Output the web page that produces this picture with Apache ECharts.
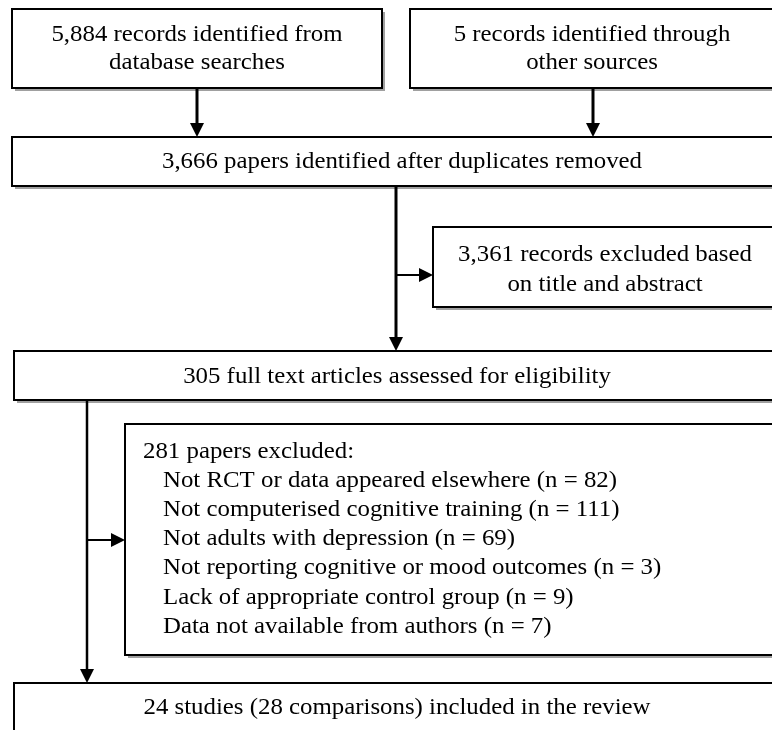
<!DOCTYPE html>
<html>
<head>
<meta charset="utf-8">
<script src="https://cdn.jsdelivr.net/npm/echarts/dist/echarts.min.js"></script>
<style>
html,body{margin:0;padding:0;background:#fff;}
#chart{width:772px;height:730px;}
</style>
</head>
<body>
<div id="chart"></div>
<script>
// ---- content (data) ----
const identifiedDatabase = 5884;
const identifiedOther = 5;
const afterDuplicates = 3666;
const excludedTitleAbstract = 3361;
const fullTextAssessed = 305;
const fullTextExcluded = 281;
const exclusionReasons = [
  "Not RCT or data appeared elsewhere",
  "Not computerised cognitive training",
  "Not adults with depression",
  "Not reporting cognitive or mood outcomes",
  "Lack of appropriate control group",
  "Data not available from authors"
];
const exclusionCounts = [82, 111, 69, 3, 9, 7];
const includedStudies = 24;
const includedComparisons = 28;

const fmt = n => n.toLocaleString('en-US');

const boxLines = [
  [fmt(identifiedDatabase) + " records identified from", "database searches"],
  [fmt(identifiedOther) + " records identified through", "other sources"],
  [fmt(afterDuplicates) + " papers identified after duplicates removed"],
  [fmt(excludedTitleAbstract) + " records excluded based", "on title and abstract"],
  [fmt(fullTextAssessed) + " full text articles assessed for eligibility"],
  [fmt(fullTextExcluded) + " papers excluded:"].concat(
    exclusionReasons.map((r, i) => r + " (n = " + exclusionCounts[i] + ")")),
  [includedStudies + " studies (" + includedComparisons + " comparisons) included in the review"]
];

// ---- layout (positions in page units, separate from data) ----
const boxLayout = [
  {rect: [12, 9, 382, 88],   tx: 197, ty: [35, 63], align: 'center'},
  {rect: [410, 9, 776, 88],  tx: 592, ty: [35, 63], align: 'center'},
  {rect: [12, 137, 790, 186], tx: 402, ty: [162], align: 'center'},
  {rect: [433, 227, 778, 307], tx: 605, ty: [255, 285], align: 'center'},
  {rect: [14, 351, 782, 400], tx: 397, ty: [377], align: 'center'},
  {rect: [125, 424, 790, 655], tx: 143, indent: 20, ty: [452, 481, 510, 539, 568, 598, 627], align: 'left'},
  {rect: [14, 683, 782, 770], tx: 397, ty: [708], align: 'center'}
];
const connectors = [
  {from: [197, 88],  to: [197, 137], w: 3},
  {from: [593, 88],  to: [593, 137], w: 3},
  {from: [396, 186], to: [396, 351], w: 3},
  {from: [396, 275], to: [433, 275], w: 2},
  {from: [87, 400],  to: [87, 683],  w: 2.5},
  {from: [87, 540],  to: [125, 540], w: 2}
];

const FONT = '24px "Liberation Serif", "Times New Roman", serif';
const SCALE_X = 1.035;

const chart = echarts.init(document.getElementById('chart'), null, {renderer: 'canvas'});

function renderBox(params, api) {
  const i = params.dataIndex;
  const L = boxLayout[i];
  const p0 = api.coord([L.rect[0], L.rect[1]]);
  const p1 = api.coord([L.rect[2], L.rect[3]]);
  const w = p1[0] - p0[0], h = p1[1] - p0[1];
  const children = [
    {type: 'rect', shape: {x: p0[0] + 3, y: p0[1] + 3, width: w, height: h},
     style: {fill: '#a0a0a0', stroke: null}},
    {type: 'rect', shape: {x: p0[0], y: p0[1], width: w, height: h},
     style: {fill: '#fff', stroke: '#000', lineWidth: 2}}
  ];
  boxLines[i].forEach((line, k) => {
    const x = L.align === 'left' ? L.tx + (k > 0 ? L.indent : 0) : L.tx;
    const p = api.coord([x, L.ty[k]]);
    children.push({
      type: 'text',
      x: p[0], y: p[1],
      scaleX: SCALE_X,
      style: {text: line, x: 0, y: 0, fill: '#000', font: FONT,
              textAlign: L.align, textVerticalAlign: 'middle'}
    });
  });
  return {type: 'group', children: children};
}

function renderConnector(params, api) {
  const c = connectors[params.dataIndex];
  const a = api.coord(c.from);
  const b = api.coord(c.to);
  const dx = b[0] - a[0], dy = b[1] - a[1];
  const len = Math.sqrt(dx * dx + dy * dy);
  const ux = dx / len, uy = dy / len;
  const headL = 14, headW = 7;
  const base = [b[0] - ux * headL, b[1] - uy * headL];
  return {
    type: 'group',
    children: [
      {type: 'line', shape: {x1: a[0], y1: a[1], x2: base[0], y2: base[1]},
       style: {stroke: '#000', lineWidth: c.w}},
      {type: 'polygon', shape: {points: [
        [b[0], b[1]],
        [base[0] - uy * headW, base[1] + ux * headW],
        [base[0] + uy * headW, base[1] - ux * headW]
      ]}, style: {fill: '#000'}}
    ]
  };
}

chart.setOption({
  animation: false,
  backgroundColor: '#fff',
  grid: {left: 0, right: 0, top: 0, bottom: 0},
  xAxis: {type: 'value', min: 0, max: 772, show: false},
  yAxis: {type: 'value', min: 0, max: 730, inverse: true, show: false},
  series: [
    {type: 'custom', name: 'boxes', clip: false, z: 2,
     data: boxLines.map((_, i) => [i]), encode: {x: 0, y: 0},
     renderItem: renderBox},
    {type: 'custom', name: 'connectors', clip: false, z: 3,
     data: connectors.map((_, i) => [i]), encode: {x: 0, y: 0},
     renderItem: renderConnector}
  ]
});
</script>
</body>
</html>
